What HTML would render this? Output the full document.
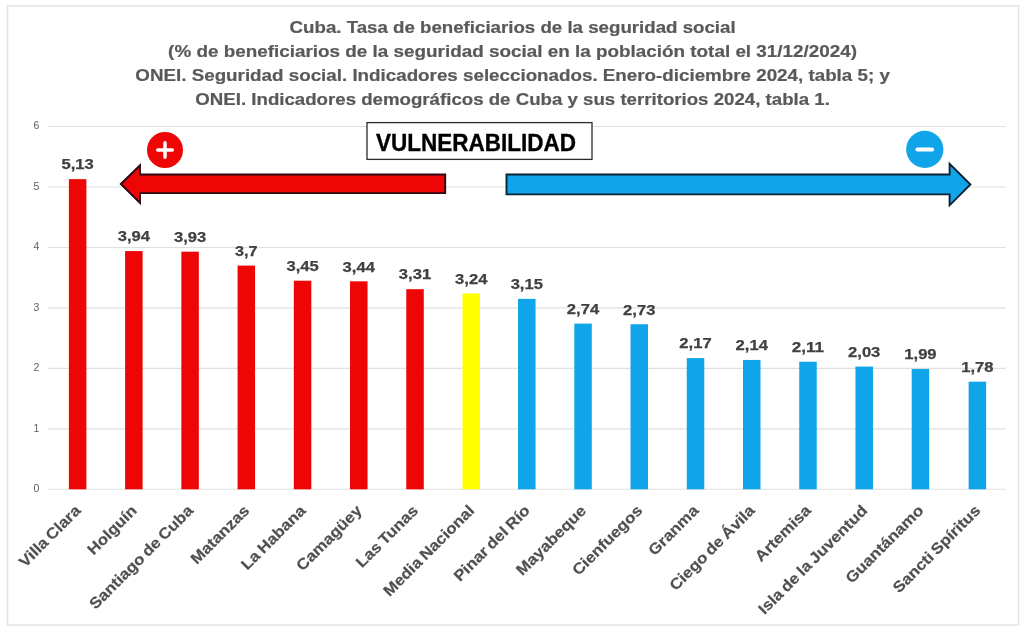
<!DOCTYPE html>
<html lang="es"><head><meta charset="utf-8"><title>Cuba. Tasa de beneficiarios de la seguridad social</title>
<style>html,body{margin:0;padding:0;background:#fff;}body{width:1024px;height:628px;overflow:hidden;}svg{display:block;}text{font-family:"Liberation Sans", Arial, sans-serif;}</style></head><body>
<svg width="1024" height="628" viewBox="0 0 1024 628">
<rect x="0" y="0" width="1024" height="628" fill="#ffffff"/>
<rect x="7.5" y="6" width="1011" height="619" fill="none" stroke="#e4e4e4" stroke-width="1.5"/>
<text x="512.6" y="33.20" text-anchor="middle" font-size="16.6" font-weight="bold" stroke="#595959" stroke-width="0.2" fill="#595959" textLength="446.0" lengthAdjust="spacingAndGlyphs">Cuba. Tasa de beneficiarios de la seguridad social</text>
<text x="512.6" y="57.00" text-anchor="middle" font-size="16.6" font-weight="bold" stroke="#595959" stroke-width="0.2" fill="#595959" textLength="689.0" lengthAdjust="spacingAndGlyphs">(% de beneficiarios de la seguridad social en la población total el 31/12/2024)</text>
<text x="512.6" y="81.25" text-anchor="middle" font-size="16.6" font-weight="bold" stroke="#595959" stroke-width="0.2" fill="#595959" textLength="754.5" lengthAdjust="spacingAndGlyphs">ONEI. Seguridad social. Indicadores seleccionados. Enero-diciembre 2024, tabla 5; y</text>
<text x="512.6" y="105.00" text-anchor="middle" font-size="16.6" font-weight="bold" stroke="#595959" stroke-width="0.2" fill="#595959" textLength="634.5" lengthAdjust="spacingAndGlyphs">ONEI. Indicadores demográficos de Cuba y sus territorios 2024, tabla 1.</text>
<line x1="48.0" y1="489.30" x2="1005.5" y2="489.30" stroke="#e0e0e0" stroke-width="1.1"/>
<text x="36.3" y="492.20" text-anchor="middle" font-size="10.5" fill="#606060">0</text>
<line x1="48.0" y1="428.84" x2="1005.5" y2="428.84" stroke="#e0e0e0" stroke-width="1.1"/>
<text x="36.3" y="431.74" text-anchor="middle" font-size="10.5" fill="#606060">1</text>
<line x1="48.0" y1="368.38" x2="1005.5" y2="368.38" stroke="#e0e0e0" stroke-width="1.1"/>
<text x="36.3" y="371.28" text-anchor="middle" font-size="10.5" fill="#606060">2</text>
<line x1="48.0" y1="307.92" x2="1005.5" y2="307.92" stroke="#e0e0e0" stroke-width="1.1"/>
<text x="36.3" y="310.82" text-anchor="middle" font-size="10.5" fill="#606060">3</text>
<line x1="48.0" y1="247.46" x2="1005.5" y2="247.46" stroke="#e0e0e0" stroke-width="1.1"/>
<text x="36.3" y="250.36" text-anchor="middle" font-size="10.5" fill="#606060">4</text>
<line x1="48.0" y1="187.00" x2="1005.5" y2="187.00" stroke="#e0e0e0" stroke-width="1.1"/>
<text x="36.3" y="189.90" text-anchor="middle" font-size="10.5" fill="#606060">5</text>
<line x1="48.0" y1="126.54" x2="1005.5" y2="126.54" stroke="#e0e0e0" stroke-width="1.1"/>
<text x="36.3" y="129.44" text-anchor="middle" font-size="10.5" fill="#606060">6</text>
<rect x="68.87" y="179.14" width="17.50" height="310.16" fill="#ee0505"/>
<text x="77.62" y="169.44" text-anchor="middle" font-size="14.7" font-weight="bold" stroke="#404040" stroke-width="0.25" fill="#404040" textLength="32.3" lengthAdjust="spacingAndGlyphs">5,13</text>
<text transform="translate(81.62,511.50) rotate(-45) scale(1.10,1)" text-anchor="end" word-spacing="-1.2" font-size="15.3" font-weight="bold" stroke="#505050" stroke-width="0.2" fill="#505050">Villa Clara</text>
<rect x="125.10" y="251.09" width="17.50" height="238.21" fill="#ee0505"/>
<text x="133.85" y="241.39" text-anchor="middle" font-size="14.7" font-weight="bold" stroke="#404040" stroke-width="0.25" fill="#404040" textLength="32.3" lengthAdjust="spacingAndGlyphs">3,94</text>
<text transform="translate(137.85,511.50) rotate(-45) scale(1.10,1)" text-anchor="end" word-spacing="-1.2" font-size="15.3" font-weight="bold" stroke="#505050" stroke-width="0.2" fill="#505050">Holguín</text>
<rect x="181.34" y="251.69" width="17.50" height="237.61" fill="#ee0505"/>
<text x="190.09" y="241.99" text-anchor="middle" font-size="14.7" font-weight="bold" stroke="#404040" stroke-width="0.25" fill="#404040" textLength="32.3" lengthAdjust="spacingAndGlyphs">3,93</text>
<text transform="translate(194.09,511.50) rotate(-45) scale(1.10,1)" text-anchor="end" word-spacing="-1.2" font-size="15.3" font-weight="bold" stroke="#505050" stroke-width="0.2" fill="#505050">Santiago de Cuba</text>
<rect x="237.57" y="265.60" width="17.50" height="223.70" fill="#ee0505"/>
<text x="246.32" y="255.90" text-anchor="middle" font-size="14.7" font-weight="bold" stroke="#404040" stroke-width="0.25" fill="#404040" textLength="22.6" lengthAdjust="spacingAndGlyphs">3,7</text>
<text transform="translate(250.32,511.50) rotate(-45) scale(1.10,1)" text-anchor="end" word-spacing="-1.2" font-size="15.3" font-weight="bold" stroke="#505050" stroke-width="0.2" fill="#505050">Matanzas</text>
<rect x="293.81" y="280.71" width="17.50" height="208.59" fill="#ee0505"/>
<text x="302.56" y="271.01" text-anchor="middle" font-size="14.7" font-weight="bold" stroke="#404040" stroke-width="0.25" fill="#404040" textLength="32.3" lengthAdjust="spacingAndGlyphs">3,45</text>
<text transform="translate(306.56,511.50) rotate(-45) scale(1.10,1)" text-anchor="end" word-spacing="-1.2" font-size="15.3" font-weight="bold" stroke="#505050" stroke-width="0.2" fill="#505050">La Habana</text>
<rect x="350.04" y="281.32" width="17.50" height="207.98" fill="#ee0505"/>
<text x="358.79" y="271.62" text-anchor="middle" font-size="14.7" font-weight="bold" stroke="#404040" stroke-width="0.25" fill="#404040" textLength="32.3" lengthAdjust="spacingAndGlyphs">3,44</text>
<text transform="translate(362.79,511.50) rotate(-45) scale(1.10,1)" text-anchor="end" word-spacing="-1.2" font-size="15.3" font-weight="bold" stroke="#505050" stroke-width="0.2" fill="#505050">Camagüey</text>
<rect x="406.28" y="289.18" width="17.50" height="200.12" fill="#ee0505"/>
<text x="415.03" y="279.48" text-anchor="middle" font-size="14.7" font-weight="bold" stroke="#404040" stroke-width="0.25" fill="#404040" textLength="32.3" lengthAdjust="spacingAndGlyphs">3,31</text>
<text transform="translate(419.03,511.50) rotate(-45) scale(1.10,1)" text-anchor="end" word-spacing="-1.2" font-size="15.3" font-weight="bold" stroke="#505050" stroke-width="0.2" fill="#505050">Las Tunas</text>
<rect x="462.51" y="293.41" width="17.50" height="195.89" fill="#ffff00"/>
<text x="471.26" y="283.71" text-anchor="middle" font-size="14.7" font-weight="bold" stroke="#404040" stroke-width="0.25" fill="#404040" textLength="32.3" lengthAdjust="spacingAndGlyphs">3,24</text>
<text transform="translate(475.26,511.50) rotate(-45) scale(1.10,1)" text-anchor="end" word-spacing="-1.2" font-size="15.3" font-weight="bold" stroke="#505050" stroke-width="0.2" fill="#505050">Media Nacional</text>
<rect x="518.05" y="298.85" width="17.50" height="190.45" fill="#10a5e9"/>
<text x="526.80" y="289.15" text-anchor="middle" font-size="14.7" font-weight="bold" stroke="#404040" stroke-width="0.25" fill="#404040" textLength="32.3" lengthAdjust="spacingAndGlyphs">3,15</text>
<text transform="translate(530.80,511.50) rotate(-45) scale(1.10,1)" text-anchor="end" word-spacing="-1.2" font-size="15.3" font-weight="bold" stroke="#505050" stroke-width="0.2" fill="#505050">Pinar del Río</text>
<rect x="574.29" y="323.64" width="17.50" height="165.66" fill="#10a5e9"/>
<text x="583.04" y="313.94" text-anchor="middle" font-size="14.7" font-weight="bold" stroke="#404040" stroke-width="0.25" fill="#404040" textLength="32.3" lengthAdjust="spacingAndGlyphs">2,74</text>
<text transform="translate(587.04,511.50) rotate(-45) scale(1.10,1)" text-anchor="end" word-spacing="-1.2" font-size="15.3" font-weight="bold" stroke="#505050" stroke-width="0.2" fill="#505050">Mayabeque</text>
<rect x="630.52" y="324.24" width="17.50" height="165.06" fill="#10a5e9"/>
<text x="639.27" y="314.54" text-anchor="middle" font-size="14.7" font-weight="bold" stroke="#404040" stroke-width="0.25" fill="#404040" textLength="32.3" lengthAdjust="spacingAndGlyphs">2,73</text>
<text transform="translate(643.27,511.50) rotate(-45) scale(1.10,1)" text-anchor="end" word-spacing="-1.2" font-size="15.3" font-weight="bold" stroke="#505050" stroke-width="0.2" fill="#505050">Cienfuegos</text>
<rect x="686.76" y="358.10" width="17.50" height="131.20" fill="#10a5e9"/>
<text x="695.51" y="348.40" text-anchor="middle" font-size="14.7" font-weight="bold" stroke="#404040" stroke-width="0.25" fill="#404040" textLength="32.3" lengthAdjust="spacingAndGlyphs">2,17</text>
<text transform="translate(699.51,511.50) rotate(-45) scale(1.10,1)" text-anchor="end" word-spacing="-1.2" font-size="15.3" font-weight="bold" stroke="#505050" stroke-width="0.2" fill="#505050">Granma</text>
<rect x="742.99" y="359.92" width="17.50" height="129.38" fill="#10a5e9"/>
<text x="751.74" y="350.22" text-anchor="middle" font-size="14.7" font-weight="bold" stroke="#404040" stroke-width="0.25" fill="#404040" textLength="32.3" lengthAdjust="spacingAndGlyphs">2,14</text>
<text transform="translate(755.74,511.50) rotate(-45) scale(1.10,1)" text-anchor="end" word-spacing="-1.2" font-size="15.3" font-weight="bold" stroke="#505050" stroke-width="0.2" fill="#505050">Ciego de Ávila</text>
<rect x="799.23" y="361.73" width="17.50" height="127.57" fill="#10a5e9"/>
<text x="807.98" y="352.03" text-anchor="middle" font-size="14.7" font-weight="bold" stroke="#404040" stroke-width="0.25" fill="#404040" textLength="32.3" lengthAdjust="spacingAndGlyphs">2,11</text>
<text transform="translate(811.98,511.50) rotate(-45) scale(1.10,1)" text-anchor="end" word-spacing="-1.2" font-size="15.3" font-weight="bold" stroke="#505050" stroke-width="0.2" fill="#505050">Artemisa</text>
<rect x="855.46" y="366.57" width="17.50" height="122.73" fill="#10a5e9"/>
<text x="864.21" y="356.87" text-anchor="middle" font-size="14.7" font-weight="bold" stroke="#404040" stroke-width="0.25" fill="#404040" textLength="32.3" lengthAdjust="spacingAndGlyphs">2,03</text>
<text transform="translate(868.21,511.50) rotate(-45) scale(1.10,1)" text-anchor="end" word-spacing="-1.2" font-size="15.3" font-weight="bold" stroke="#505050" stroke-width="0.2" fill="#505050">Isla de la Juventud</text>
<rect x="911.70" y="368.98" width="17.50" height="120.32" fill="#10a5e9"/>
<text x="920.45" y="359.28" text-anchor="middle" font-size="14.7" font-weight="bold" stroke="#404040" stroke-width="0.25" fill="#404040" textLength="32.3" lengthAdjust="spacingAndGlyphs">1,99</text>
<text transform="translate(924.45,511.50) rotate(-45) scale(1.10,1)" text-anchor="end" word-spacing="-1.2" font-size="15.3" font-weight="bold" stroke="#505050" stroke-width="0.2" fill="#505050">Guantánamo</text>
<rect x="968.63" y="381.68" width="17.50" height="107.62" fill="#10a5e9"/>
<text x="977.38" y="371.98" text-anchor="middle" font-size="14.7" font-weight="bold" stroke="#404040" stroke-width="0.25" fill="#404040" textLength="32.3" lengthAdjust="spacingAndGlyphs">1,78</text>
<text transform="translate(981.38,511.50) rotate(-45) scale(1.10,1)" text-anchor="end" word-spacing="-1.2" font-size="15.3" font-weight="bold" stroke="#505050" stroke-width="0.2" fill="#505050">Sancti Spíritus</text>
<path d="M120.8 184 L140 165.2 L140 174.5 L445.2 174.5 L445.2 193.1 L140 193.1 L140 203 Z" fill="#ee0505" stroke="#2a0a14" stroke-width="1.9" stroke-linejoin="miter"/>
<path d="M970.4 184.5 L949.6 163.8 L949.6 174.5 L506.5 174.5 L506.5 194.4 L949.6 194.4 L949.6 205.3 Z" fill="#10a5e9" stroke="#0b2234" stroke-width="1.9" stroke-linejoin="miter"/>
<circle cx="165" cy="150" r="18" fill="#ee0505"/>
<path d="M157.7 150 H172.3 M165 142.7 V157.3" stroke="#fff" stroke-width="3.5" stroke-linecap="round" fill="none"/>
<circle cx="924.8" cy="149.4" r="18.6" fill="#10a5e9"/>
<path d="M917.4 149.5 H932.2" stroke="#fff" stroke-width="3.8" stroke-linecap="round" fill="none"/>
<rect x="367" y="122.6" width="225" height="36.8" fill="#fff" stroke="#2b2b2b" stroke-width="1.3"/>
<text x="476" y="150.6" text-anchor="middle" font-size="24" font-weight="bold" fill="#000" stroke="#000" stroke-width="0.35" textLength="200" lengthAdjust="spacingAndGlyphs">VULNERABILIDAD</text>
</svg></body></html>
